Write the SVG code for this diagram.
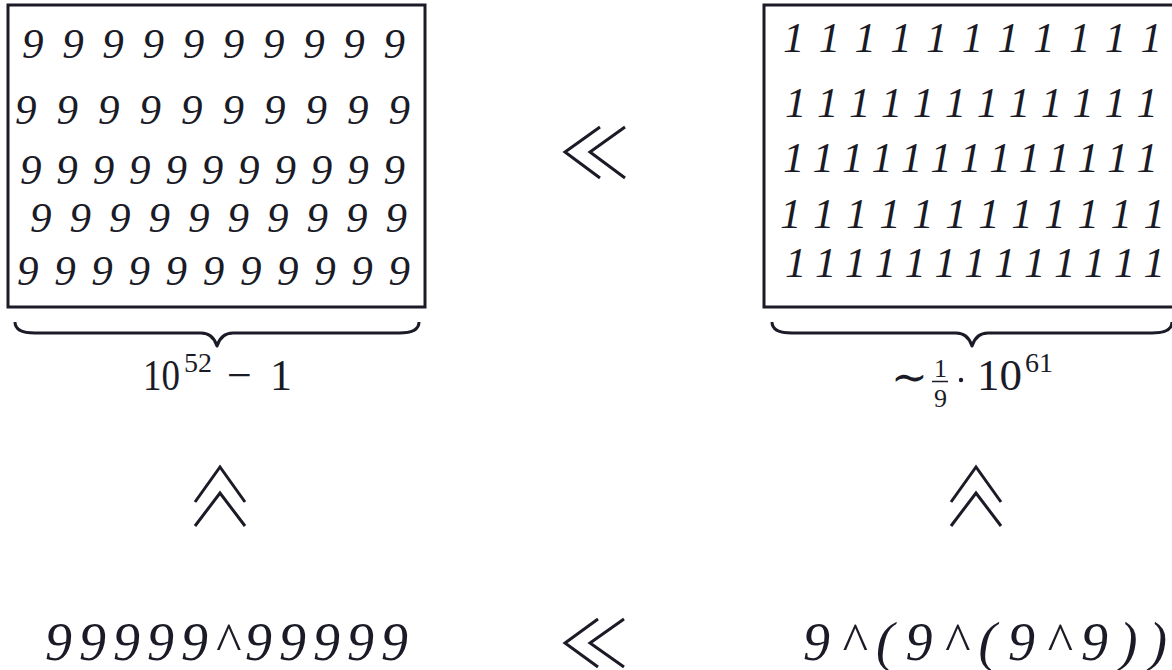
<svg xmlns="http://www.w3.org/2000/svg" width="1172" height="670" viewBox="0 0 1172 670">
<style>
.bg{fill:#ffffff}
.box{fill:none;stroke:#1a1b26;stroke-width:3}
.brace{fill:none;stroke:#1a1b26;stroke-width:3;stroke-linejoin:round}
.rel{fill:none;stroke:#1a1b26;stroke-width:3;stroke-linecap:butt;stroke-linejoin:miter}
.script{font-family:"Liberation Serif","DejaVu Serif",serif;font-style:italic;font-size:54px;fill:#1a1b26}
.cell{font-family:"Liberation Serif","DejaVu Serif",serif;font-style:italic;font-size:43px;fill:#1a1b26}
.math{font-family:"Liberation Serif","DejaVu Serif",serif;font-size:44px;fill:#1a1b26}
.sup{font-family:"Liberation Serif","DejaVu Serif",serif;font-size:28px;fill:#1a1b26}
.frac{font-family:"Liberation Serif","DejaVu Serif",serif;font-size:26px;fill:#1a1b26}
</style>
<rect class="bg" x="0" y="0" width="1172" height="670"/>

<g id="nines-box">
  <rect class="box" x="8" y="5" width="417" height="302"/>
  <text class="cell" x="22" y="58" textLength="383" lengthAdjust="spacing">9999999999</text>
  <text class="cell" x="15" y="124" textLength="395" lengthAdjust="spacing">9999999999</text>
  <text class="cell" x="20" y="184" textLength="385" lengthAdjust="spacing">99999999999</text>
  <text class="cell" x="30" y="232" textLength="377" lengthAdjust="spacing">9999999999</text>
  <text class="cell" x="17" y="285" textLength="393" lengthAdjust="spacing">99999999999</text>
</g>

<g id="ones-box">
  <rect class="box" x="764" y="5" width="420" height="302"/>
  <text class="cell" x="783" y="52" textLength="379" lengthAdjust="spacing">11111111111</text>
  <text class="cell" x="785" y="117" textLength="373" lengthAdjust="spacing">111111111111</text>
  <text class="cell" x="783" y="172" textLength="375" lengthAdjust="spacing">1111111111111</text>
  <text class="cell" x="780" y="228" textLength="385" lengthAdjust="spacing">111111111111</text>
  <text class="cell" x="785" y="277" textLength="380" lengthAdjust="spacing">1111111111111</text>
</g>

<g id="nines-count">
  <path class="brace" d="M15,322 Q15,333 35,333 L201,333 Q213,333 217,346 Q221,333 233,333 L399,333 Q419,333 419,322"/>
  <text class="math" x="143" y="390" textLength="37" lengthAdjust="spacingAndGlyphs">10</text>
  <text class="sup" x="184" y="372">52</text>
  <text class="math" x="227" y="390">−</text>
  <text class="math" x="270" y="390">1</text>
</g>

<g id="ones-count">
  <path class="brace" d="M772,322 Q772,333 792,333 L956,333 Q968,333 972,346 Q976,333 988,333 L1152,333 Q1172,333 1172,322"/>
  <text class="math" x="891" y="392">∼</text>
  <text class="frac" x="934" y="377">1</text>
  <line x1="932" y1="381.5" x2="948" y2="381.5" stroke="#1a1b26" stroke-width="1.5"/>
  <text class="frac" x="934" y="407">9</text>
  <circle cx="961" cy="380" r="2.2" fill="#1a1b26"/>
  <text class="math" x="977" y="390" textLength="45" lengthAdjust="spacingAndGlyphs">10</text>
  <text class="sup" x="1025" y="372">61</text>
</g>

<g id="expr-left">
  <text class="script" x="45" y="660" textLength="363" lengthAdjust="spacing">99999^99999</text>
</g>

<g id="expr-right">
  <text class="script" x="803" y="660" textLength="364" lengthAdjust="spacing">9^(9^(9^9))</text>
</g>

<g id="connectors">
  <path class="rel" d="M600,127 L565,152 L600,178 M625,127 L590,152 L625,178"/>
  <path class="rel" d="M598,619 L565,643 L598,667 M624,619 L590,643 L624,667"/>
  <path class="rel" d="M195,502 L220,467 L245,502 M195,526 L220,493 L245,526"/>
  <path class="rel" d="M951,502 L976,467 L1001,502 M951,526 L976,493 L1001,526"/>
</g>
</svg>
